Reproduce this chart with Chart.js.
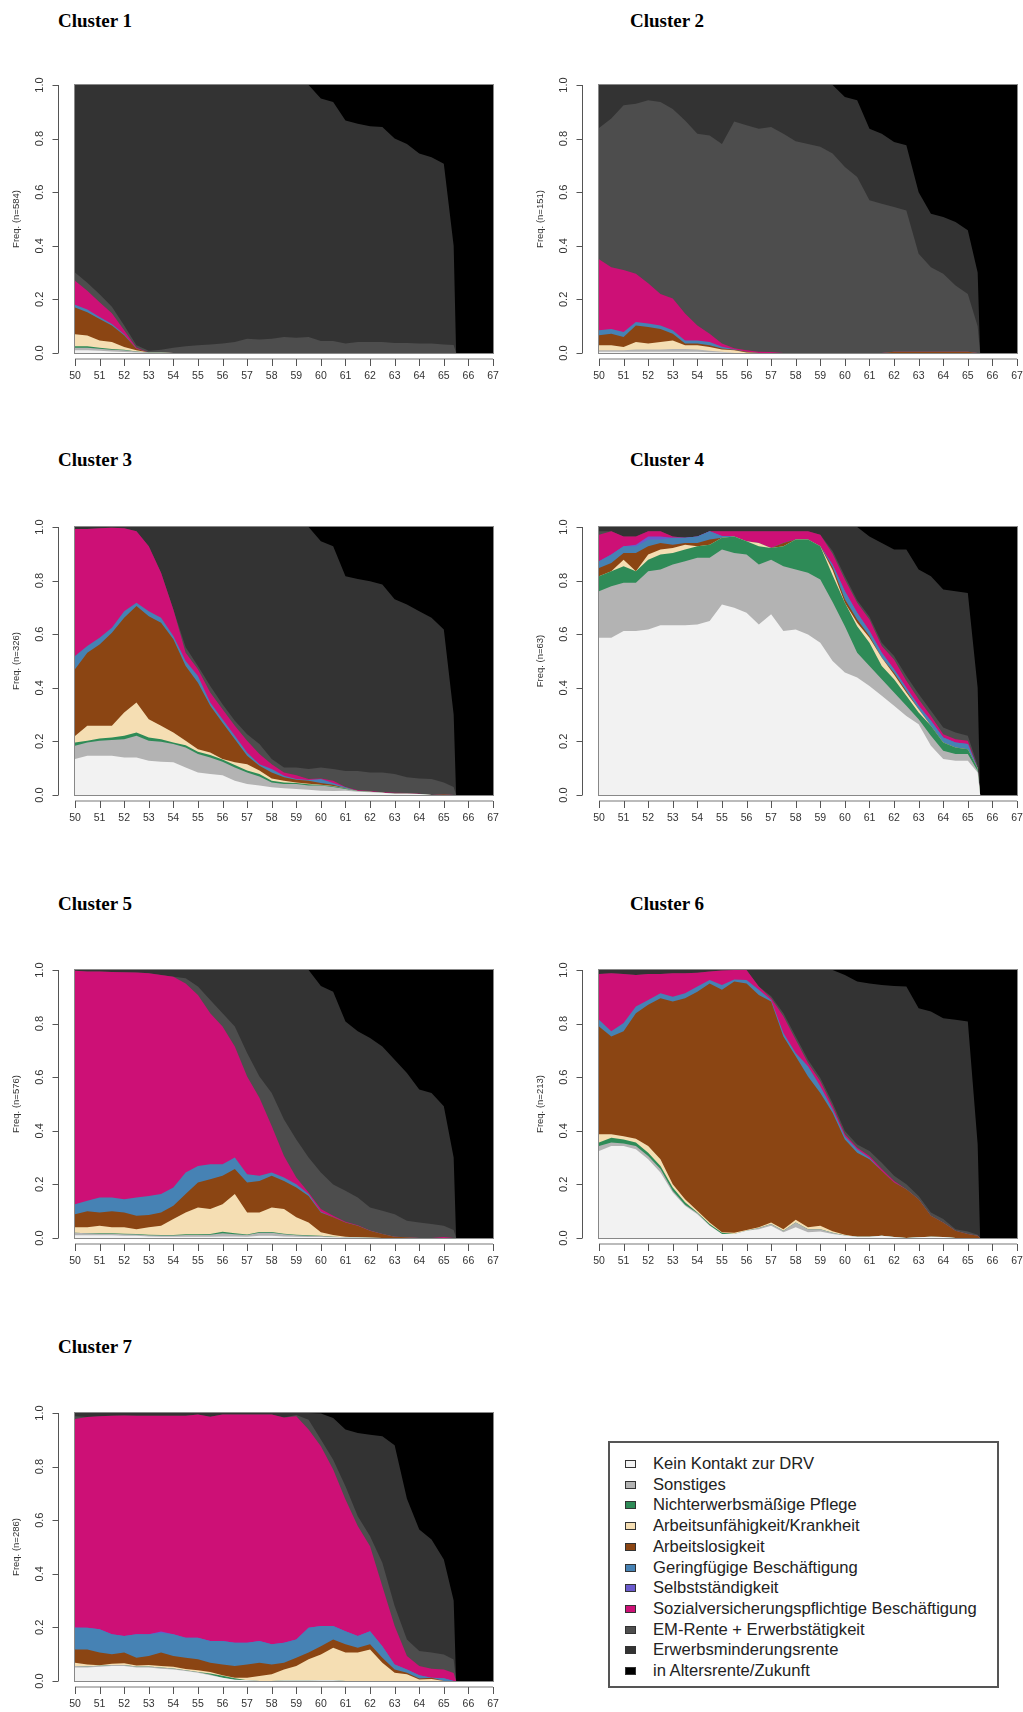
<!DOCTYPE html>
<html>
<head>
<meta charset="utf-8">
<script src="https://cdn.jsdelivr.net/npm/chart.js@4.4.0/dist/chart.umd.min.js"></script>
<style>
  body { margin: 0; background: #fff; }
  #page { position: relative; width: 1023px; height: 1712px; overflow: hidden; }
  .title { position: absolute; font: bold 19px "Liberation Serif", "Times New Roman", serif; line-height: 19px; color: #000; white-space: nowrap; }
  canvas { position: absolute; }
  #legend { position: absolute; left: 608px; top: 1441px; width: 391px; height: 247px; box-sizing: border-box; border: 2px solid #555; }
  .item { position: absolute; left: 0; height: 20px; line-height: 20px; font: 16.6px "Liberation Sans", Arial, sans-serif; color: #222; white-space: nowrap; }
  .sw { position: absolute; left: 15px; top: 6px; width: 11px; height: 8px; box-sizing: border-box; border: 1px solid #333; }
  .lbl { position: absolute; left: 43px; top: 0; }
</style>
</head>
<body>
<div id="page">
  <div id="legend"></div>
</div>
<script>
// Alter in Jahren (gemeinsame x-Stützstellen für alle Cluster)
const ages = [50, 50.5, 51, 51.5, 52, 52.5, 53, 53.5, 54, 54.5,
  55, 55.5, 56, 56.5, 57, 57.5, 58, 58.5, 59, 59.5,
  60, 60.5, 61, 61.5, 62, 62.5, 63, 63.5, 64, 64.5,
  65, 65.4, 65.5, 67];

const yTicks = [0, 0.2, 0.4, 0.6, 0.8, 1.0];
const yTickLabels = ['0.0', '0.2', '0.4', '0.6', '0.8', '1.0'];

const stateLabels = ['Kein Kontakt zur DRV', 'Sonstiges', 'Nichterwerbsmäßige Pflege',
  'Arbeitsunfähigkeit/Krankheit', 'Arbeitslosigkeit', 'Geringfügige Beschäftigung',
  'Selbstständigkeit', 'Sozialversicherungspflichtige Beschäftigung',
  'EM-Rente + Erwerbstätigkeit', 'Erwerbsminderungsrente', 'in Altersrente/Zukunft'];
const stateColors = ['#F2F2F2', '#B3B3B3', '#2E8B57', '#F5DEB3', '#8B4513', '#4682B4',
  '#6A5ACD', '#CD1076', '#4D4D4D', '#333333', '#000000'];

const clusterNames = ['Cluster 1', 'Cluster 2', 'Cluster 3', 'Cluster 4', 'Cluster 5', 'Cluster 6', 'Cluster 7'];
const clusterN = [584, 151, 326, 63, 576, 213, 286];

// Cluster 1
const c1Kein = [.01,.01,.008,.006,.004,.002,0,0,0,0, 0,0,0,0,0,0,0,0,0,0, 0,0,0,0,0,0,0,0,0,0, 0,0,0,0];
const c1Sonst = [.01,.01,.008,.006,.006,.004,.002,.002,0,0, 0,0,0,0,0,0,0,0,0,0, 0,0,0,0,0,0,0,0,0,0, 0,0,0,0];
const c1Pflege = [.005,.005,.004,.003,.002,0,0,0,0,0, 0,0,0,0,0,0,0,0,0,0, 0,0,0,0,0,0,0,0,0,0, 0,0,0,0];
const c1AU = [.045,.04,.027,.026,.01,.004,0,0,0,0, 0,0,0,0,0,0,0,0,0,0, 0,0,0,0,0,0,0,0,0,0, 0,0,0,0];
const c1ALO = [.10,.087,.08,.062,.044,.006,0,0,0,0, 0,0,0,0,0,0,0,0,0,0, 0,0,0,0,0,0,0,0,0,0, 0,0,0,0];
const c1Gering = [.01,.01,.007,.005,.004,0,0,0,0,0, 0,0,0,0,0,0,0,0,0,0, 0,0,0,0,0,0,0,0,0,0, 0,0,0,0];
const c1SVB = [.09,.07,.055,.04,.015,.004,0,0,0,0, 0,0,0,0,0,0,0,0,0,0, 0,0,0,0,0,0,0,0,0,0, 0,0,0,0];
const c1EmErw = [.03,.03,.03,.025,.018,.009,.006,.01,.02,.025, .029,.032,.035,.041,.053,.05,.053,.06,.057,.06, .045,.045,.035,.041,.041,.041,.037,.037,.035,.035, .032,.03,0,0];
const c1Emr = [.70,.738,.781,.827,.897,.971,.992,.988,.98,.975, .971,.968,.965,.959,.947,.95,.947,.94,.943,.94, .905,.892,.833,.814,.805,.802,.763,.743,.709,.695, .674,.37,0,0];
const c1Alt = [0,0,0,0,0,0,0,0,0,0, 0,0,0,0,0,0,0,0,0,0, .05,.063,.132,.145,.154,.157,.20,.22,.256,.27, .294,.60,1,1];

// Cluster 2
const c2Kein = [.005,.005,.005,.005,.005,.005,.005,.005,.005,.003, .002,0,0,0,0,0,0,0,0,0, 0,0,0,0,0,0,0,0,0,0, 0,0,0,0];
const c2Sonst = [.005,.005,.005,.008,.008,.008,.01,.01,.008,.005, .003,0,0,0,0,0,0,0,0,0, 0,0,0,0,0,0,0,0,0,0, 0,0,0,0];
const c2AU = [.019,.019,.012,.028,.022,.028,.032,.014,.016,.014, .008,.01,.002,0,0,0,0,0,0,0, 0,0,0,0,0,0,0,0,0,0, 0,0,0,0];
const c2ALO = [.037,.043,.038,.062,.062,.049,.025,.006,.006,.007, .004,.002,.003,0,0,0,0,0,0,0, 0,0,0,0,.005,.005,.005,.005,.005,.005, .005,0,0,0];
const c2Gering = [.019,.018,.018,.013,.013,.013,.013,.012,.012,.012, .006,.002,0,0,0,0,0,0,0,0, 0,0,0,0,0,0,0,0,0,0, 0,0,0,0];
const c2SVB = [.265,.23,.232,.18,.15,.117,.118,.10,.056,.031, .012,.004,.005,.005,.004,0,0,0,0,0, 0,0,0,0,0,0,0,0,0,0, 0,0,0,0];
const c2EmErw = [.49,.555,.614,.634,.683,.717,.707,.721,.715,.74, .745,.846,.84,.832,.839,.818,.79,.78,.77,.744, .694,.657,.57,.557,.54,.527,.365,.315,.291,.247, .215,.10,0,0];
const c2Emr = [.16,.125,.076,.07,.057,.063,.09,.132,.182,.188, .22,.138,.15,.163,.157,.182,.21,.22,.23,.256, .261,.286,.267,.261,.242,.243,.23,.20,.211,.237, .238,.20,0,0];
const c2Alt = [0,0,0,0,0,0,0,0,0,0, 0,0,0,0,0,0,0,0,0,0, .045,.057,.163,.182,.213,.225,.40,.48,.493,.511, .542,.70,1,1];

// Cluster 3
const c3Kein = [.134,.146,.146,.146,.14,.14,.128,.124,.122,.103, .084,.078,.074,.053,.041,.035,.029,.025,.022,.02, .016,.015,.016,.012,.01,.008,.005,.005,.004,0, 0,0,0,0];
const c3Sonst = [.05,.05,.056,.059,.068,.081,.074,.075,.068,.074, .069,.062,.05,.05,.043,.034,.018,.016,.019,.015, .019,.015,.006,.003,.002,0,0,0,0,0, 0,0,0,0];
const c3Pflege = [.012,.006,.009,.01,.013,.012,.013,.009,.006,.009, .008,.009,.008,.009,.007,.009,.006,.006,.004,.005, .002,.003,.003,0,0,0,0,0,0,0, 0,0,0,0];
const c3AU = [.024,.056,.047,.043,.087,.112,.068,.05,.037,.016, .01,.01,.002,.01,.024,.013,.009,.006,.002,.002, .001,.001,0,0,0,0,0,0,0,0, 0,0,0,0];
const c3ALO = [.249,.273,.304,.347,.353,.36,.384,.385,.348,.279, .248,.174,.136,.086,.031,.018,.022,.013,.01,.011, .007,.004,0,0,0,0,0,0,0,0, .003,0,0,0];
const c3Gering = [.05,.025,.025,.019,.025,.012,.019,.018,.012,.019, .025,.012,.013,.013,.013,.006,.013,.006,.003,.003, .015,.007,.004,0,0,0,0,0,0,0, 0,0,0,0];
const c3SVB = [.474,.437,.408,.373,.309,.267,.242,.168,.099,.031, .025,.037,.037,.037,.043,.038,.018,.012,.014,.004, .002,.008,.001,.003,.003,.002,.003,.002,.001,0, 0,0,0,0];
const c3EmErw = [0,0,0,0,0,0,0,0,0,.02, .012,.025,.019,.019,.025,.037,.019,.019,.029,.037, .041,.044,.06,.072,.069,.074,.07,.059,.057,.06, .044,.03,0,0];
const c3Emr = [.007,.007,.005,.003,.005,.016,.072,.171,.308,.449, .519,.593,.661,.723,.773,.81,.866,.897,.897,.903, .844,.831,.726,.716,.714,.701,.652,.645,.624,.601, .571,.27,0,0];
const c3Alt = [0,0,0,0,0,0,0,0,0,0, 0,0,0,0,0,0,0,0,0,0, .053,.072,.184,.194,.202,.215,.27,.289,.314,.339, .382,.70,1,1];

// Cluster 4
const c4Kein = [.587,.587,.612,.612,.618,.633,.633,.633,.636,.649, .711,.699,.68,.636,.674,.612,.618,.599,.568,.50, .457,.438,.407,.37,.333,.295,.264,.184,.134,.128, .128,.084,0,0];
const c4Sonst = [.173,.192,.18,.18,.217,.208,.227,.239,.249,.236, .205,.204,.217,.224,.204,.242,.223,.23,.236,.22, .173,.093,.074,.062,.049,.038,.019,.037,.031,.025, .025,.006,0,0];
const c4Pflege = [.056,.056,.062,.043,.043,.056,.043,.044,.043,.049, .044,.062,.05,.068,.044,.074,.112,.124,.124,.10, .087,.099,.087,.049,.05,.037,.025,.037,.031,.024, .018,.01,0,0];
const c4AU = [0,0,.024,0,.019,.019,.019,.018,0,0, 0,0,0,.012,0,0,0,0,0,.02, 0,.013,.019,.031,.018,.012,.012,0,0,0, 0,0,0,0];
const c4ALO = [.031,.031,.025,.068,.031,.024,.012,.006,.012,.019, 0,0,0,0,0,.012,0,0,0,.01, .013,.012,.006,0,.006,.006,0,0,0,0, 0,0,0,0];
const c4Gering = [.025,.031,.025,.025,.025,.013,.026,.02,.025,.031, .006,0,0,0,0,0,0,0,0,.01, .03,.025,.019,.019,.013,.012,.013,.019,.019,.019, .019,0,0,0];
const c4Selbst = [0,0,0,.006,.012,.012,0,0,0,0, 0,0,0,0,0,0,0,0,0,0, 0,0,0,0,0,0,0,0,0,0, 0,0,0,0];
const c4SVB = [.099,.087,.037,.031,.019,.019,.005,0,0,0, .018,.019,.037,.044,.062,.044,.031,.031,.043,.04, .044,.037,.043,.025,.037,.026,.024,.018,.012,.012, .012,0,0,0];
const c4EmErw = [.013,0,0,0,0,0,0,0,0,0, 0,0,0,0,0,0,0,0,0,.01, .012,.01,.01,.012,.013,.018,.02,.019,.025,.025, .019,.01,0,0];
const c4Emr = [.016,.016,.035,.035,.016,.016,.035,.04,.035,.016, .016,.016,.016,.016,.016,.016,.016,.016,.029,.09, .184,.273,.30,.372,.397,.472,.464,.502,.515,.527, .533,.29,0,0];
const c4Alt = [0,0,0,0,0,0,0,0,0,0, 0,0,0,0,0,0,0,0,0,0, 0,0,.035,.06,.084,.084,.159,.184,.233,.24, .246,.60,1,1];

// Cluster 5
const c5Kein = [.01,.01,.01,.01,.008,.008,.006,.005,.005,.005, .005,.005,.006,.006,.005,.008,.008,.006,.005,.004, .004,.003,.002,.002,.001,0,0,0,0,0, 0,0,0,0];
const c5Sonst = [.01,.008,.006,.006,.006,.005,.004,.004,.004,.006, .006,.007,.012,.008,.006,.012,.012,.008,.005,.004, .003,.002,.001,0,0,0,0,0,0,0, 0,0,0,0];
const c5Pflege = [0,0,.002,.002,.002,.002,.002,.002,.002,.003, .003,.003,.005,.004,.002,.002,.002,.002,.002,.002, .001,0,0,0,0,0,0,0,0,0, 0,0,0,0];
const c5AU = [.02,.022,.028,.022,.024,.018,.028,.035,.06,.081, .10,.093,.103,.146,.082,.073,.092,.092,.065,.048, .013,.006,.002,0,0,0,0,0,0,0, 0,0,0,0];
const c5ALO = [.049,.06,.049,.06,.055,.05,.046,.049,.049,.069, .093,.111,.106,.093,.112,.118,.118,.105,.111,.099, .074,.066,.053,.044,.026,.015,.005,.003,0,0, 0,0,0,0];
const c5Gering = [.037,.039,.056,.051,.05,.068,.071,.069,.068,.08, .062,.056,.043,.043,.031,.019,.012,.013,.013,.007, .003,0,0,0,0,0,0,0,0,0, 0,0,0,0];
const c5SVB = [.871,.855,.843,.842,.847,.84,.831,.817,.787,.706, .638,.564,.514,.415,.365,.291,.174,.08,.025,.006, .01,.006,.003,.002,.001,0,0,0,0,0, .004,0,0,0];
const c5EmErw = [0,0,0,0,0,0,0,0,0,.019, .031,.049,.05,.074,.087,.08,.123,.136,.142,.13, .136,.117,.115,.103,.086,.087,.084,.061,.058,.052, .042,.03,0,0];
const c5Emr = [.003,.006,.006,.007,.008,.009,.012,.019,.025,.031, .062,.112,.161,.211,.31,.397,.459,.558,.632,.70, .696,.719,.632,.62,.632,.613,.576,.552,.496,.489, .446,.27,0,0];
const c5Alt = [0,0,0,0,0,0,0,0,0,0, 0,0,0,0,0,0,0,0,0,0, .06,.081,.192,.229,.254,.285,.335,.384,.446,.459, .508,.70,1,1];

// Cluster 6
const c6Kein = [.325,.343,.343,.331,.294,.244,.17,.12,.089,.046, .015,.015,.027,.033,.046,.021,.04,.021,.024,.015, .009,.005,.005,.008,.004,0,.003,.005,.004,0, 0,0,0,0];
const c6Sonst = [.018,.013,.01,.012,.012,.013,.006,.004,.004,.002, 0,0,0,.004,.006,.006,.018,.012,.009,.005, 0,0,0,0,0,0,0,0,0,0, 0,0,0,0];
const c6Pflege = [.013,.018,.015,.013,.012,.012,.012,.009,.002,.004, .005,0,0,0,0,0,0,0,0,0, 0,0,0,0,0,0,0,0,0,0, 0,0,0,0];
const c6AU = [.031,.013,.012,.014,.025,.025,.013,.012,.007,.006, .001,.005,.003,.003,.006,.006,.01,.007,.013,.005, .003,0,0,0,0,0,0,0,0,0, 0,0,0,0];
const c6ALO = [.402,.365,.391,.469,.527,.601,.681,.75,.817,.892, .905,.937,.92,.867,.824,.719,.61,.563,.495,.442, .356,.313,.289,.242,.203,.182,.142,.078,.054,.027, .015,.008,0,0];
const c6Gering = [.025,.019,.031,.025,.018,.018,.018,.018,.019,.013, .018,.008,.013,.019,.006,.013,.012,.038,.025,.013, .012,.013,.005,0,0,0,0,0,0,0, 0,0,0,0];
const c6SVB = [.171,.217,.183,.117,.097,.072,.088,.075,.052,.031, .054,.035,.037,.012,.007,.062,.05,.012,.019,.012, .007,.006,.007,.007,.006,0,0,0,0,0, 0,0,0,0];
const c6EmErw = [0,0,0,0,0,0,0,0,0,0, 0,0,0,0,.007,.012,.012,.012,.012,.012, .012,.012,.019,.024,.019,.019,.012,.012,.013,.006, .009,.004,0,0];
const c6Emr = [.015,.012,.015,.019,.015,.015,.012,.012,.01,.006, .002,0,0,.062,.098,.161,.248,.335,.403,.496, .582,.608,.625,.663,.708,.737,.70,.75,.749,.781, .784,.338,0,0];
const c6Alt = [0,0,0,0,0,0,0,0,0,0, 0,0,0,0,0,0,0,0,0,0, .019,.043,.05,.056,.06,.062,.143,.155,.18,.186, .192,.65,1,1];

// Cluster 7
const c7Kein = [.05,.05,.053,.056,.056,.05,.05,.046,.043,.037, .031,.021,.012,.005,.003,0,0,.002,.002,.002, .003,.003,0,0,0,0,0,0,0,0, 0,0,0,0];
const c7Sonst = [.006,.005,.004,.004,.004,.004,.004,.004,.004,.003, .003,.003,0,0,0,0,0,0,0,0, 0,0,0,0,0,0,0,0,0,0, 0,0,0,0];
const c7Pflege = [0,0,0,0,0,0,0,0,0,0, 0,.004,.008,.005,0,0,0,0,0,0, 0,0,0,0,0,0,0,0,0,0, 0,0,0,0];
const c7AU = [.012,.007,.002,.004,.006,.004,.006,.006,.006,.005, .006,.006,.001,.002,.009,.019,.025,.041,.054,.079, .096,.121,.106,.106,.118,.068,.031,.025,.006,.007, 0,0,0,0];
const c7ALO = [.05,.056,.047,.036,.04,.029,.033,.05,.04,.042, .041,.034,.041,.044,.05,.049,.037,.025,.031,.025, .031,.031,.031,.018,.019,.019,.012,.006,.003,.005, 0,0,0,0];
const c7Gering = [.081,.081,.087,.074,.062,.087,.081,.074,.081,.074, .08,.081,.087,.087,.081,.081,.075,.075,.068,.093, .075,.05,.049,.044,.049,.043,.019,.012,.012,0, .01,0,0,0];
const c7Selbst = [.001,0,0,0,0,0,0,.005,0,0, 0,0,0,0,0,0,0,0,0,0, 0,0,0,0,0,0,0,0,0,0, 0,0,0,0];
const c7SVB = [.778,.786,.795,.816,.823,.816,.816,.805,.816,.829, .833,.837,.845,.851,.851,.845,.857,.84,.833,.739, .671,.584,.491,.41,.317,.224,.143,.05,.035,.034, .033,.03,0,0];
const c7EmErw = [.01,0,0,0,0,0,0,0,0,0, 0,0,0,0,0,0,0,0,.005,.037, .025,.037,.05,.037,.037,.087,.075,.062,.056,.06, .056,.05,0,0];
const c7Emr = [.012,.015,.012,.01,.009,.01,.01,.01,.01,.01, .006,.014,.006,.006,.006,.006,.006,.017,.007,.025, .097,.155,.211,.31,.379,.472,.60,.525,.453,.422, .354,.22,0,0];
const c7Alt = [0,0,0,0,0,0,0,0,0,0, 0,0,0,0,0,0,0,0,0,0, .002,.019,.062,.075,.081,.087,.12,.32,.435,.472, .547,.70,1,1];

// Zuordnung: pro Cluster eine Liste in Reihenfolge der Zustände (null = nicht vorhanden)
const clusterSeries = [
  [c1Kein, c1Sonst, c1Pflege, c1AU, c1ALO, c1Gering, null, c1SVB, c1EmErw, c1Emr, c1Alt],
  [c2Kein, c2Sonst, null, c2AU, c2ALO, c2Gering, null, c2SVB, c2EmErw, c2Emr, c2Alt],
  [c3Kein, c3Sonst, c3Pflege, c3AU, c3ALO, c3Gering, null, c3SVB, c3EmErw, c3Emr, c3Alt],
  [c4Kein, c4Sonst, c4Pflege, c4AU, c4ALO, c4Gering, c4Selbst, c4SVB, c4EmErw, c4Emr, c4Alt],
  [c5Kein, c5Sonst, c5Pflege, c5AU, c5ALO, c5Gering, null, c5SVB, c5EmErw, c5Emr, c5Alt],
  [c6Kein, c6Sonst, c6Pflege, c6AU, c6ALO, c6Gering, null, c6SVB, c6EmErw, c6Emr, c6Alt],
  [c7Kein, c7Sonst, c7Pflege, c7AU, c7ALO, c7Gering, c7Selbst, c7SVB, c7EmErw, c7Emr, c7Alt]
];

// Achsen im R-Stil (abgesetzt vom Plotrahmen)
const rAxes = {
  id: 'rAxes',
  beforeDatasetsDraw(chart) {
    const { ctx, chartArea: a } = chart;
    ctx.save();
    ctx.fillStyle = stateColors[9];
    ctx.fillRect(a.left, a.top, a.right - a.left, a.bottom - a.top);
    ctx.restore();
  },
  afterDraw(chart) {
    const { ctx, chartArea: a, scales: { x, y } } = chart;
    ctx.save();
    ctx.strokeStyle = '#888';
    ctx.lineWidth = 1;
    ctx.strokeRect(a.left - 0.5, a.top - 0.5, a.right - a.left + 1, a.bottom - a.top + 1);

    // y-Achse
    const ax = Math.round(a.left - 17) + 0.5;
    ctx.strokeStyle = '#555';
    ctx.beginPath();
    ctx.moveTo(ax, y.getPixelForValue(0));
    ctx.lineTo(ax, y.getPixelForValue(1));
    yTicks.forEach(v => {
      const py = Math.round(y.getPixelForValue(v)) + 0.5;
      ctx.moveTo(ax - 6, py);
      ctx.lineTo(ax, py);
    });
    ctx.stroke();
    ctx.fillStyle = '#333';
    ctx.font = '11px "Liberation Sans", Arial, sans-serif';
    ctx.textAlign = 'center';
    ctx.textBaseline = 'middle';
    yTicks.forEach((v, i) => {
      ctx.save();
      ctx.translate(a.left - 35, y.getPixelForValue(v));
      ctx.rotate(-Math.PI / 2);
      ctx.fillText(yTickLabels[i], 0, 0);
      ctx.restore();
    });

    // x-Achse
    const ay = a.bottom + 6;
    ctx.strokeStyle = '#bbb';
    ctx.lineWidth = 2;
    ctx.beginPath();
    ctx.moveTo(x.getPixelForValue(50), ay);
    ctx.lineTo(x.getPixelForValue(67), ay);
    ctx.stroke();
    ctx.strokeStyle = '#555';
    ctx.lineWidth = 1;
    ctx.beginPath();
    x.ticks.forEach(t => {
      const px = Math.round(x.getPixelForValue(t.value)) + 0.5;
      ctx.moveTo(px, ay);
      ctx.lineTo(px, ay + 7);
    });
    ctx.stroke();
    ctx.restore();
  }
};

const page = document.getElementById('page');
const plotTops = [85, 527, 970, 1413];
const titleTops = [11, 450, 894, 1337];
const PLOT_W = 418, PLOT_H = 268;

clusterNames.forEach((name, i) => {
  const col = i % 2, row = Math.floor(i / 2);
  const plotLeft = col ? 599 : 75;
  const padRight = col ? 6 : 17;

  const title = document.createElement('div');
  title.className = 'title';
  title.textContent = name;
  title.style.left = (col ? 630 : 58) + 'px';
  title.style.top = titleTops[row] + 'px';
  page.appendChild(title);

  const cv = document.createElement('canvas');
  const w = 75 + PLOT_W + padRight, h = 50 + PLOT_H + 45;
  cv.width = w; cv.height = h;
  cv.style.left = (plotLeft - 75) + 'px';
  cv.style.top = (plotTops[row] - 50) + 'px';
  cv.style.width = w + 'px'; cv.style.height = h + 'px';
  page.appendChild(cv);

  const datasets = [];
  clusterSeries[i].forEach((vals, s) => {
    if (!vals) return;
    datasets.push({
      label: stateLabels[s],
      data: ages.map((a, k) => ({ x: a, y: vals[k] })),
      backgroundColor: stateColors[s],
      borderColor: stateColors[s],
      borderWidth: 0,
      pointRadius: 0,
      tension: 0,
      fill: 'origin'
    });
  });

  new Chart(cv.getContext('2d'), {
    type: 'line',
    data: { datasets },
    plugins: [rAxes],
    options: {
      responsive: false,
      animation: false,
      layout: { padding: { top: 50, right: padRight, left: 0, bottom: 0 } },
      plugins: { legend: { display: false }, tooltip: { enabled: false } },
      scales: {
        x: {
          type: 'linear', min: 50, max: 67,
          afterFit: s => { s.height = 45; s.paddingLeft = 0; s.paddingRight = 0; },
          grid: { display: false, drawTicks: false, tickLength: 0 },
          border: { display: false },
          ticks: { stepSize: 1, autoSkip: false, maxRotation: 0, padding: 17,
            color: '#333', font: { family: '"Liberation Sans", Arial, sans-serif', size: 10.5 } }
        },
        y: {
          min: 0, max: 1, stacked: true,
          afterFit: s => { s.width = 75; },
          grid: { display: false, drawTicks: false, tickLength: 0 },
          border: { display: false },
          ticks: { display: false },
          title: { display: true, text: 'Freq. (n=' + clusterN[i] + ')', padding: { top: 11, bottom: 0 },
            color: '#333', font: { family: '"Liberation Sans", Arial, sans-serif', size: 9.5 } }
        }
      }
    }
  });
});

// Legende
const legend = document.getElementById('legend');
stateLabels.forEach((lab, i) => {
  const item = document.createElement('div');
  item.className = 'item';
  item.style.top = (11 + i * 20.7) + 'px';
  const sw = document.createElement('span');
  sw.className = 'sw';
  sw.style.background = stateColors[i];
  const t = document.createElement('span');
  t.className = 'lbl';
  t.textContent = lab;
  item.appendChild(sw);
  item.appendChild(t);
  legend.appendChild(item);
});
</script>
</body>
</html>
